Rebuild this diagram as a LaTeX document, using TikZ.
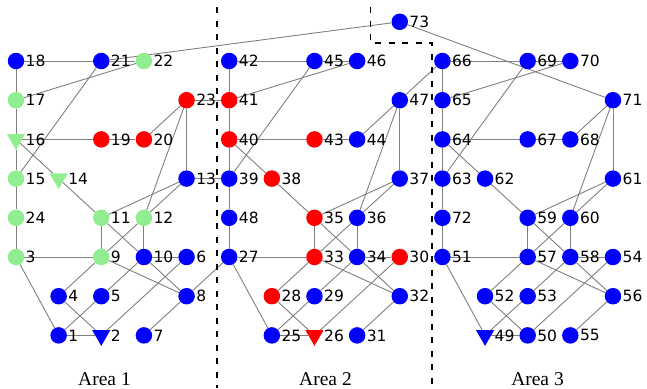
\documentclass[tikz,border=0pt]{standalone}
\usepackage{fontspec}
\newfontfamily\lblfont{DejaVu Sans}
\newfontfamily\areafont{Liberation Serif}
\usetikzlibrary{shapes.geometric}
\pgfdeclarelayer{edges}
\pgfsetlayers{edges,main}

\definecolor{nblue}{RGB}{0,0,255}
\definecolor{nred}{RGB}{255,0,0}
\definecolor{ngreen}{RGB}{144,238,144}
\definecolor{edgegray}{RGB}{128,128,128}

\tikzset{
  dot/.style={circle, fill=#1, inner sep=0pt, minimum size=16.5pt},
  tri/.style={regular polygon, regular polygon sides=3, shape border rotate=180,
              fill=#1, inner sep=0pt, minimum size=21pt},
  lbl/.style={anchor=west, inner sep=0pt, font=\lblfont\fontsize{15.5}{15.5}\selectfont},
  link/.style={draw=edgegray, line width=0.9pt},
  border/.style={draw=black, line width=1.2pt, dash pattern=on 6pt off 7.5pt},
  area/.style={anchor=base, inner sep=0pt, font=\areafont\fontsize{19.5}{19.5}\selectfont},
}

% #1 bus number, #2 column, #3 row, #4 marker style, #5 colour
\newcommand\placenode[5]{%
  \node[#4=#5] (n#1) at ({16+42.64*#2},{61+39.2*#3}) {};
  \node[lbl] (l#1) at ([xshift=9.5pt]n#1.center) {#1};}

\begin{document}
\begin{tikzpicture}[x=1pt,y=-1pt]
\useasboundingbox (0,0) rectangle (647,388);

% ---- area 1 ----
\placenode{18}{0}{0}{dot}{nblue}
\placenode{21}{2}{0}{dot}{nblue}
\placenode{22}{3}{0}{dot}{ngreen}
\placenode{17}{0}{1}{dot}{ngreen}
\placenode{23}{4}{1}{dot}{nred}
\placenode{16}{0}{2}{tri}{ngreen}
\placenode{19}{2}{2}{dot}{nred}
\placenode{20}{3}{2}{dot}{nred}
\placenode{15}{0}{3}{dot}{ngreen}
\placenode{14}{1}{3}{tri}{ngreen}
\placenode{13}{4}{3}{dot}{nblue}
\placenode{24}{0}{4}{dot}{ngreen}
\placenode{11}{2}{4}{dot}{ngreen}
\placenode{12}{3}{4}{dot}{ngreen}
\placenode{3}{0}{5}{dot}{ngreen}
\placenode{9}{2}{5}{dot}{ngreen}
\placenode{10}{3}{5}{dot}{nblue}
\placenode{6}{4}{5}{dot}{nblue}
\placenode{4}{1}{6}{dot}{nblue}
\placenode{5}{2}{6}{dot}{nblue}
\placenode{8}{4}{6}{dot}{nblue}
\placenode{1}{1}{7}{dot}{nblue}
\placenode{2}{2}{7}{tri}{nblue}
\placenode{7}{3}{7}{dot}{nblue}

% ---- area 2 ----
\placenode{73}{9}{-1}{dot}{nblue}
\placenode{42}{5}{0}{dot}{nblue}
\placenode{45}{7}{0}{dot}{nblue}
\placenode{46}{8}{0}{dot}{nblue}
\placenode{41}{5}{1}{dot}{nred}
\placenode{47}{9}{1}{dot}{nblue}
\placenode{40}{5}{2}{dot}{nred}
\placenode{43}{7}{2}{dot}{nred}
\placenode{44}{8}{2}{dot}{nblue}
\placenode{39}{5}{3}{dot}{nblue}
\placenode{38}{6}{3}{dot}{nred}
\placenode{37}{9}{3}{dot}{nblue}
\placenode{48}{5}{4}{dot}{nblue}
\placenode{35}{7}{4}{dot}{nred}
\placenode{36}{8}{4}{dot}{nblue}
\placenode{27}{5}{5}{dot}{nblue}
\placenode{33}{7}{5}{dot}{nred}
\placenode{34}{8}{5}{dot}{nblue}
\placenode{30}{9}{5}{dot}{nred}
\placenode{28}{6}{6}{dot}{nred}
\placenode{29}{7}{6}{dot}{nblue}
\placenode{32}{9}{6}{dot}{nblue}
\placenode{25}{6}{7}{dot}{nblue}
\placenode{26}{7}{7}{tri}{nred}
\placenode{31}{8}{7}{dot}{nblue}

% ---- area 3 ----
\placenode{66}{10}{0}{dot}{nblue}
\placenode{69}{12}{0}{dot}{nblue}
\placenode{70}{13}{0}{dot}{nblue}
\placenode{65}{10}{1}{dot}{nblue}
\placenode{71}{14}{1}{dot}{nblue}
\placenode{64}{10}{2}{dot}{nblue}
\placenode{67}{12}{2}{dot}{nblue}
\placenode{68}{13}{2}{dot}{nblue}
\placenode{63}{10}{3}{dot}{nblue}
\placenode{62}{11}{3}{dot}{nblue}
\placenode{61}{14}{3}{dot}{nblue}
\placenode{72}{10}{4}{dot}{nblue}
\placenode{59}{12}{4}{dot}{nblue}
\placenode{60}{13}{4}{dot}{nblue}
\placenode{51}{10}{5}{dot}{nblue}
\placenode{57}{12}{5}{dot}{nblue}
\placenode{58}{13}{5}{dot}{nblue}
\placenode{54}{14}{5}{dot}{nblue}
\placenode{52}{11}{6}{dot}{nblue}
\placenode{53}{12}{6}{dot}{nblue}
\placenode{56}{14}{6}{dot}{nblue}
\placenode{49}{11}{7}{tri}{nblue}
\placenode{50}{12}{7}{dot}{nblue}
\placenode{55}{13}{7}{dot}{nblue}

% ---- lines ----
\begin{pgfonlayer}{edges}
\foreach \a/\b in {18/21,21/22,18/17,17/22,17/16,16/15,15/24,24/3,16/19,19/20,
  20/23,23/13,21/15,16/14,14/11,23/12,13/11,13/12,11/9,12/10,3/9,11/10,10/8,
  12/9,9/8,10/6,9/4,10/5,5/1,6/2,4/2,1/2,3/1,8/7,
  21/73,23/41,13/39,27/8,
  42/45,45/46,42/41,41/40,40/39,39/48,48/27,41/46,45/39,40/43,43/44,40/38,
  38/35,44/47,47/37,47/36,37/35,37/36,35/33,36/34,27/33,35/34,34/32,33/32,
  36/33,33/28,34/29,29/25,34/30,30/26,28/26,25/26,27/25,32/31,
  73/71,47/66,
  66/69,69/70,66/65,65/64,64/63,63/72,72/51,65/70,69/63,64/67,67/68,64/62,
  62/59,71/68,71/61,71/60,61/59,61/60,59/57,60/58,51/57,59/58,58/56,57/56,
  60/57,57/52,58/53,53/49,58/54,54/50,52/50,49/50,51/49,56/55}
  \draw[link] (n\a) -- (n\b);
\end{pgfonlayer}

% ---- area boundaries ----
\coordinate (b1top) at (217,7);
\coordinate (b1bot) at (217,388);
\draw[border] (b1top) -- (b1bot);
\coordinate (b2top) at (370.5,7);
\coordinate (b2knee) at (370.5,43);
\coordinate (b2corner) at (432,43);
\coordinate (b2bot) at (432,388);
\draw[border] (b2top) -- (b2knee) -- (b2corner) -- (b2bot);

% ---- area names ----
\node[area] (a1) at (104.5,385) {Area 1};
\node[area] (a2) at (325.5,385) {Area 2};
\node[area] (a3) at (537.5,385) {Area 3};
\end{tikzpicture}
\end{document}
